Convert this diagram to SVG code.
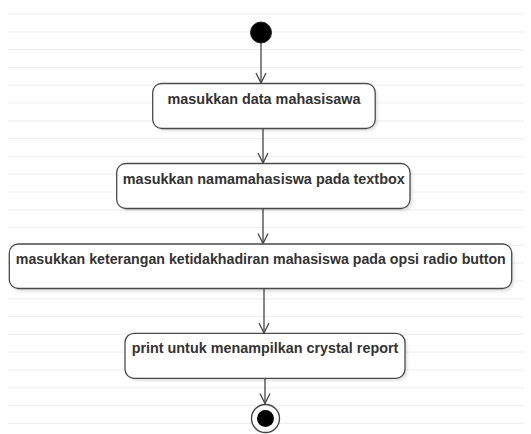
<svg xmlns="http://www.w3.org/2000/svg" width="531" height="434" viewBox="0 0 531 434">
<style>
.bg{stroke:#efefef;stroke-width:1.2}
.box{fill:#ffffff;stroke:#4a4a4a;stroke-width:1.3}
.shadow{fill:#000;opacity:0.12}
.lbl{font-family:"Liberation Sans",Arial,sans-serif;font-weight:bold;font-size:14.2px;fill:#333333;text-anchor:middle}
.edge{stroke:#444;stroke-width:1.3;fill:none}
</style>
<defs>
<marker id="arr" viewBox="0 0 12 12" refX="11" refY="6" markerWidth="12" markerHeight="12" markerUnits="userSpaceOnUse" orient="auto">
<path d="M1,1 L11,6 L1,11" fill="none" stroke="#444" stroke-width="1.3"/>
</marker>
<filter id="sh" x="-10%" y="-20%" width="120%" height="160%">
<feGaussianBlur stdDeviation="1.5"/>
</filter>
</defs>
<rect width="531" height="434" fill="#ffffff"/>
<g id="background">
<path class="bg" d="M8,14H524M8,31.8H524M8,49.6H524M8,67.4H524M8,85.2H524M8,103H524M8,120.8H524M8,138.6H524M8,156.4H524M8,174.2H524M8,192H524M8,209.8H524M8,227.6H524M8,245.4H524M8,263.2H524M8,281H524M8,298.8H524M8,316.6H524M8,334.4H524M8,352.2H524M8,370H524M8,387.8H524M8,405.6H524M8,423.4H524"/>
</g>
<g id="connectors">
<path class="edge" d="M261,43 V83" marker-end="url(#arr)"/>
<path class="edge" d="M263,128.5 V163" marker-end="url(#arr)"/>
<path class="edge" d="M263,208.5 V243.5" marker-end="url(#arr)"/>
<path class="edge" d="M264,289 V333" marker-end="url(#arr)"/>
<path class="edge" d="M265,378.5 V403.5" marker-end="url(#arr)"/>
</g>
<g id="start">
<circle cx="261" cy="32.5" r="10.5" fill="#000" stroke="#222" stroke-width="1"/>
</g>
<g id="n1">
<rect class="shadow" x="155" y="86" width="222.5" height="45" rx="9" filter="url(#sh)"/>
<rect class="box" x="152.7" y="83.5" width="222.5" height="45" rx="9"/>
<text class="lbl" x="264" y="104" textLength="193" lengthAdjust="spacingAndGlyphs">masukkan data mahasisawa</text>
</g>
<g id="n2">
<rect class="shadow" x="119" y="166" width="293.3" height="45" rx="9" filter="url(#sh)"/>
<rect class="box" x="116.7" y="163.5" width="293.3" height="45" rx="9"/>
<text class="lbl" x="263.8" y="184" textLength="282" lengthAdjust="spacingAndGlyphs">masukkan namamahasiswa pada textbox</text>
</g>
<g id="n3">
<rect class="shadow" x="11.5" y="246.5" width="502.4" height="45" rx="9" filter="url(#sh)"/>
<rect class="box" x="9.3" y="244" width="502.4" height="44.5" rx="9"/>
<text class="lbl" x="260.8" y="264" textLength="490" lengthAdjust="spacingAndGlyphs">masukkan keterangan ketidakhadiran mahasiswa pada opsi radio button</text>
</g>
<g id="n4">
<rect class="shadow" x="127.3" y="335.8" width="280" height="45" rx="9" filter="url(#sh)"/>
<rect class="box" x="125" y="333.3" width="280" height="45" rx="9"/>
<text class="lbl" x="265" y="353.3" textLength="266.7" lengthAdjust="spacingAndGlyphs">print untuk menampilkan crystal report</text>
</g>
<g id="end">
<circle cx="265.5" cy="418.5" r="14" fill="#ffffff" stroke="#444" stroke-width="1.4"/>
<circle cx="265.5" cy="418.5" r="8.5" fill="#000"/>
</g>
</svg>
